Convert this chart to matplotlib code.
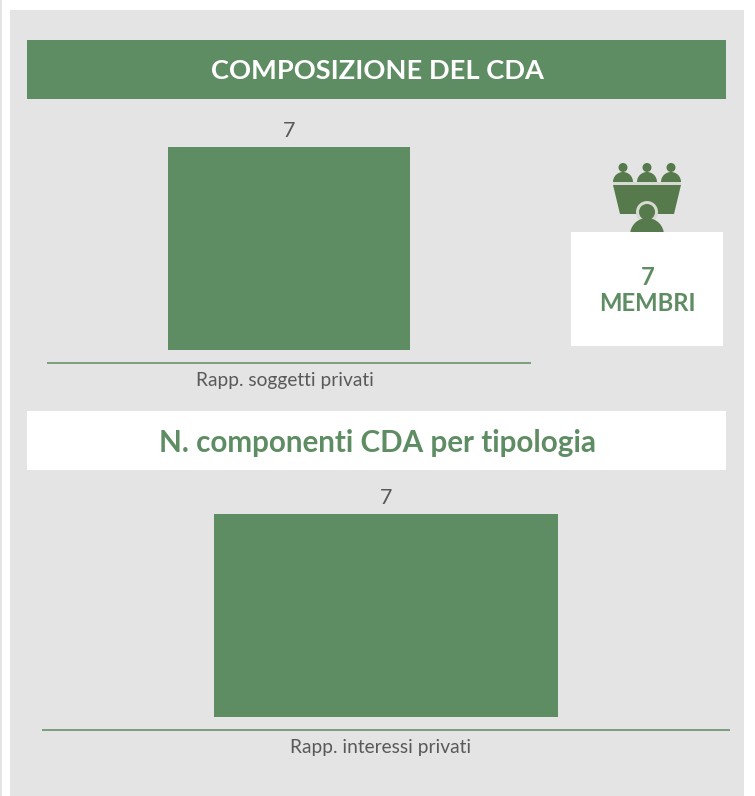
import matplotlib
matplotlib.use('Agg')
import matplotlib.pyplot as plt
from matplotlib.patches import Rectangle, Polygon, Circle, Wedge
from matplotlib.transforms import ScaledTranslation

W, H = 755, 796
GREEN = '#5f8d63'
ICON = '#567a4b'
RING = '#d6dad2'
PANEL = '#e4e4e4'
GREY = '#595959'
FONT = ['Lato', 'DejaVu Sans']

categories_top = ['Rapp. soggetti privati']
values_top = [7]
categories_bottom = ['Rapp. interessi privati']
values_bottom = [7]

plt.rcParams['font.family'] = FONT

fig = plt.figure(figsize=(W / 100, H / 100), dpi=100, facecolor='white')

# pixel canvas for the panels, banners and icon (y runs downwards)
bg = fig.add_axes([0, 0, 1, 1])
bg.set_xlim(0, W)
bg.set_ylim(H, 0)
bg.axis('off')


def box(x0, y0, x1, y1, color, zorder=1):
    bg.add_patch(Rectangle((x0, y0), x1 - x0, y1 - y0, fc=color, ec='none', zorder=zorder))


box(0, 0, 2, H, PANEL)
box(10, 10, 744, H, PANEL)
box(27, 40, 726, 99, GREEN)
box(27, 411, 726, 470, 'white')
box(571, 232, 723, 346, 'white', zorder=3)

bg.text(377.5, 71, 'COMPOSIZIONE DEL CDA', color='white', fontsize=19.6,
        fontweight='bold', ha='center', va='center')
bg.text(377.5, 443, 'N. componenti CDA per tipologia', color=GREEN, fontsize=21.3,
        fontweight='bold', ha='center', va='center')
bg.text(647.5, 290.5, '7\nMEMBRI', color=GREEN, fontsize=17.2, fontweight='bold',
        ha='center', va='center', linespacing=1.2, zorder=4)

# icon: three people behind a table, one in front
for cx in (623, 647, 671):
    bg.add_patch(Circle((cx, 167.5), 4.5, fc=ICON, ec='none', zorder=2))
    bg.add_patch(Wedge((cx, 182), 10, 180, 360, fc=ICON, ec='none', zorder=2))
box(613, 182, 681, 185, RING, zorder=2.3)
bg.add_patch(Polygon([(613, 185), (681, 185), (674, 214), (620, 214)], fc=ICON, ec='none', zorder=2.3))
bg.add_patch(Circle((647, 212), 11, fc=RING, ec='none', zorder=2.4))
bg.add_patch(Circle((647, 212), 8, fc=ICON, ec='none', zorder=2.5))
bg.add_patch(Wedge((647, 235), 17, 180, 360, fc=ICON, ec='none', zorder=2.5))


def bar_panel(left, right, top, bottom, cats, vals, label_shift):
    ax = fig.add_axes([left / W, 1 - bottom / H, (right - left) / W, (bottom - top) / H])
    ax.patch.set_visible(False)
    bars = ax.bar(cats, vals, width=0.5, color=GREEN)
    ax.bar_label(bars, padding=4, color=GREY, fontsize=15.5)
    ax.set_xlim(-0.5, 0.5)
    ax.set_ylim(0, max(vals))
    ax.set_yticks([])
    for side in ('top', 'left', 'right'):
        ax.spines[side].set_visible(False)
    ax.spines['bottom'].set_position(('outward', 9.4))
    ax.spines['bottom'].set_color('#7a9f7d')
    ax.spines['bottom'].set_linewidth(1.4)
    ax.spines['bottom'].set_capstyle('butt')
    ax.tick_params(axis='x', length=0, pad=6.5, labelsize=13.8, labelcolor=GREY)
    # the category label sits a little left of the bar centre in the original
    shift = ScaledTranslation(label_shift / 100, 0, fig.dpi_scale_trans)
    for lab in ax.get_xticklabels():
        lab.set_transform(lab.get_transform() + shift)
    return ax


bar_panel(47, 531, 147, 350, categories_top, values_top, -4)
bar_panel(42, 730, 514, 717, categories_bottom, values_bottom, -5)

fig.savefig('out.png', dpi=100, facecolor='white')
